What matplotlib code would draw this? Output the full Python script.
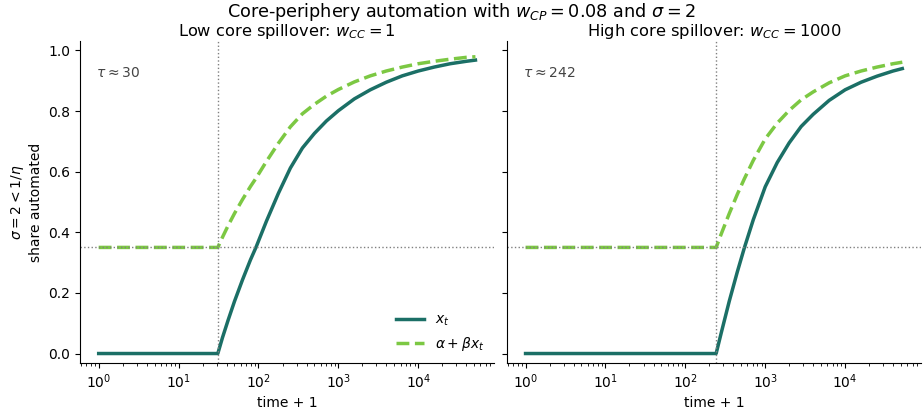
import matplotlib
matplotlib.use('Agg')
import matplotlib.pyplot as plt

# --------------------------------------------------
# Values
# --------------------------------------------------

# low core spillover (w_CC = 1), tau ~ 30
t_low = [1, 31, 35.5, 41.7, 50.1, 63.1, 79.4, 93, 126, 178, 251, 355, 501,
         708, 1000, 1585, 2512, 3981, 6310, 10000, 15850, 25120, 39810, 52000]
x_low = [0.0, 0.0, 0.053, 0.110, 0.172, 0.243, 0.309, 0.350, 0.437, 0.529,
         0.612, 0.678, 0.726, 0.767, 0.801, 0.840, 0.870, 0.895, 0.916,
         0.932, 0.945, 0.956, 0.964, 0.968]
ab_low = [0.35, 0.35, 0.384, 0.422, 0.462, 0.508, 0.551, 0.578, 0.634, 0.694,
          0.748, 0.791, 0.822, 0.849, 0.871, 0.896, 0.916, 0.932, 0.945,
          0.956, 0.964, 0.971, 0.977, 0.979]

# high core spillover (w_CC = 1000), tau ~ 242
t_high = [1, 243, 282, 355, 447, 547, 708, 1000, 1413, 1995, 2818, 3981,
          6310, 10000, 15850, 25120, 39810, 52000]
x_high = [0.0, 0.0, 0.069, 0.173, 0.269, 0.348, 0.441, 0.550, 0.630, 0.695,
          0.749, 0.789, 0.835, 0.870, 0.895, 0.915, 0.932, 0.940]
ab_high = [0.35, 0.35, 0.395, 0.462, 0.525, 0.576, 0.637, 0.708, 0.760,
           0.802, 0.837, 0.863, 0.893, 0.916, 0.932, 0.945, 0.956, 0.961]

tau_vals = [30, 242]
alpha = 0.35
titles = [r'Low core spillover: $w_{CC} = 1$', r'High core spillover: $w_{CC} = 1000$']

DARK = '#1b6f66'
LIGHT = '#7cc843'

fig, axes = plt.subplots(1, 2, figsize=(9.23, 4.13), dpi=100, sharey=True)
fig.subplots_adjust(left=0.0865, right=0.998, bottom=0.122, top=0.9, wspace=0.03)
fig.suptitle(r'Core-periphery automation with $w_{CP} = 0.08$ and $\sigma = 2$',
             fontsize=12.7, y=0.998)

series = [(t_low, x_low, ab_low), (t_high, x_high, ab_high)]
for ax, (t, x, ab), tau, title in zip(axes, series, tau_vals, titles):
    ax.plot(t, x, color=DARK, lw=2.5, label=r'$x_t$')
    ax.plot(t, ab, color=LIGHT, lw=2.5, ls='--', label=r'$\alpha + \beta x_t$')
    ax.axvline(tau + 1, color='gray', ls=':', lw=1)
    ax.axhline(alpha, color='gray', ls=':', lw=1)
    ax.set_xscale('log')
    ax.set_xlabel('time + 1')
    ax.set_title(title, fontsize=11.7, pad=3)
    ax.text(0.04, 0.9, r'$\tau \approx %d$' % tau, transform=ax.transAxes,
            color='#444444', fontsize=10, va='center')
    ax.spines['top'].set_visible(False)
    ax.spines['right'].set_visible(False)

axes[0].set_ylim(-0.03, 1.03)
axes[0].set_ylabel('$\\sigma = 2 < 1/\\eta$\nshare automated')
axes[0].legend(loc='lower right', frameon=False, borderaxespad=0.3)

fig.savefig('out.png', dpi=100)
